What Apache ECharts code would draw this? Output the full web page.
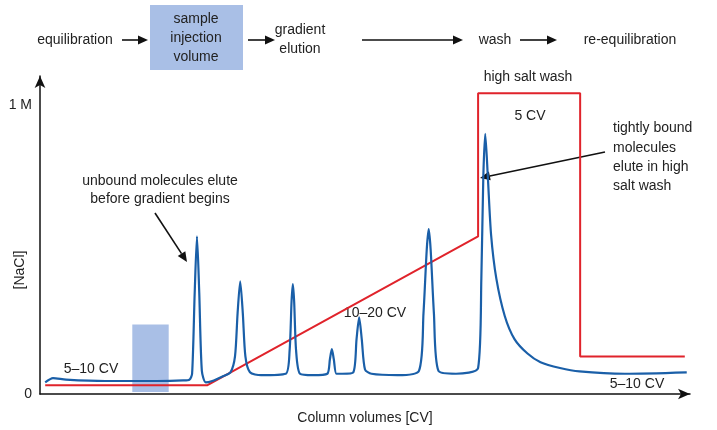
<!DOCTYPE html><html><head><meta charset="utf-8">
<script src="https://cdn.jsdelivr.net/npm/echarts@6/dist/echarts.min.js"></script>
<style>html,body{margin:0;background:#fff}#c{width:717px;height:430px}</style></head><body><div id="c"></div>
<script>
const saltX=[0.8,25.7,67.4,67.4,83.1,83.1,99.2];
const saltY=[0.03,0.03,0.545,1.04,1.04,0.13,0.13];
const absX=[0.8,2,4,10,18,22,23.0,23.4,23.8,24.15,24.5,24.9,25.5,26.5,28,29.3,30,30.4,30.8,31.2,31.6,32.3,34,37.8,38.4,38.7,38.9,39.1,39.4,40,42,44.2,44.6,44.9,45.2,45.6,46.5,48.2,48.7,49.1,49.5,50,51,55,58.3,59,59.5,59.8,60.1,60.6,61.3,64,67.4,67.9,68.2,68.5,68.9,69.4,70.2,71.5,73,75,77,80,83,90,99.5];
const absY=[0.04,0.055,0.05,0.045,0.045,0.047,0.05,0.07,0.35,0.545,0.35,0.08,0.04,0.045,0.06,0.075,0.13,0.28,0.39,0.28,0.13,0.075,0.065,0.07,0.15,0.32,0.38,0.32,0.15,0.07,0.065,0.07,0.12,0.155,0.12,0.07,0.07,0.075,0.19,0.265,0.19,0.085,0.07,0.065,0.08,0.28,0.5,0.57,0.5,0.28,0.08,0.07,0.09,0.4,0.75,0.9,0.75,0.55,0.4,0.27,0.19,0.14,0.11,0.09,0.078,0.07,0.075];
const injX=[14.2,19.8], injY=[0.007,0.24];
const yTicks={0:'0',1:'1 M'};
const F='Liberation Sans, Arial, sans-serif';
const chart=echarts.init(document.getElementById('c'));
function txt(x,y,t,align){return {type:'text',x:x,y:y,style:{text:t,font:'14px '+F,fill:'#222',align:align||'center',verticalAlign:'middle',lineHeight:19}};}
function arrow(x1,y1,x2,y2){const a=Math.atan2(y2-y1,x2-x1),L=10,W=4.5;
 const bx=x2-L*Math.cos(a),by=y2-L*Math.sin(a);
 return [{type:'line',shape:{x1:x1,y1:y1,x2:bx,y2:by},style:{stroke:'#111',lineWidth:1.6}},
 {type:'polygon',shape:{points:[[x2,y2],[bx+W*Math.sin(a),by-W*Math.cos(a)],[bx-W*Math.sin(a),by+W*Math.cos(a)]]},style:{fill:'#111'}}];}
const g=[
 {type:'rect',shape:{x:150,y:5,width:93,height:65},style:{fill:'#a9bfe6'}},
 txt(196,19,'sample'),txt(196,38,'injection'),txt(196,57,'volume'),
 txt(75,40,'equilibration'),...arrow(122,40,148,40),
 ...arrow(248,40,275,40),txt(300,30,'gradient'),txt(300,49,'elution'),
 ...arrow(362,40,463,40),txt(495,40,'wash'),...arrow(520,40,557,40),txt(630,40,'re-equilibration'),
 txt(528,77,'high salt wash'),txt(530,116,'5 CV'),
 txt(613,128,'tightly bound','left'),txt(613,148,'molecules','left'),txt(613,167,'elute in high','left'),txt(613,186,'salt wash','left'),
 ...arrow(605,152,480,178),
 txt(160,181,'unbound molecules elute'),txt(160,199,'before gradient begins'),
 ...arrow(155,213,187,262),
 txt(375,313,'10–20 CV'),txt(91,369,'5–10 CV'),txt(637,384,'5–10 CV'),
 {type:'text',x:20,y:270,rotation:Math.PI/2,style:{text:'[NaCl]',font:'14px '+F,fill:'#222',align:'center',verticalAlign:'middle'}}
];
chart.setOption({animation:false,
 grid:{left:40,right:27,top:76,bottom:35},
 xAxis:{type:'value',min:0,max:100,name:'Column volumes [CV]',nameLocation:'middle',nameGap:17,nameTextStyle:{fontFamily:F,fontSize:14,color:'#222'},
  axisLine:{lineStyle:{color:'#111',width:1.5},symbol:['none','arrow'],symbolSize:[8,12]},axisTick:{show:false},axisLabel:{show:false},splitLine:{show:false}},
 yAxis:{type:'value',min:0,max:1.1,interval:1,axisLine:{show:true,lineStyle:{color:'#111',width:1.5},symbol:['none','arrow'],symbolSize:[8,12]},
  axisTick:{show:false},splitLine:{show:false},axisLabel:{showMaxLabel:false,fontFamily:F,fontSize:14,color:'#222',margin:8,formatter:v=>yTicks[v]||''}},
 series:[
  {type:'line',data:saltX.map((x,i)=>[x,saltY[i]]),symbol:'none',lineStyle:{color:'#e0232b',width:2},
   markArea:{silent:true,itemStyle:{color:'#a9bfe6',opacity:1},data:[[{coord:[injX[0],injY[0]]},{coord:[injX[1],injY[1]]}]]},z:2},
  {type:'line',data:absX.map((x,i)=>[x,absY[i]]),symbol:'none',smooth:0.25,lineStyle:{color:'#1a5fa8',width:2.2},z:3}
 ],
 graphic:g});
</script></body></html>
